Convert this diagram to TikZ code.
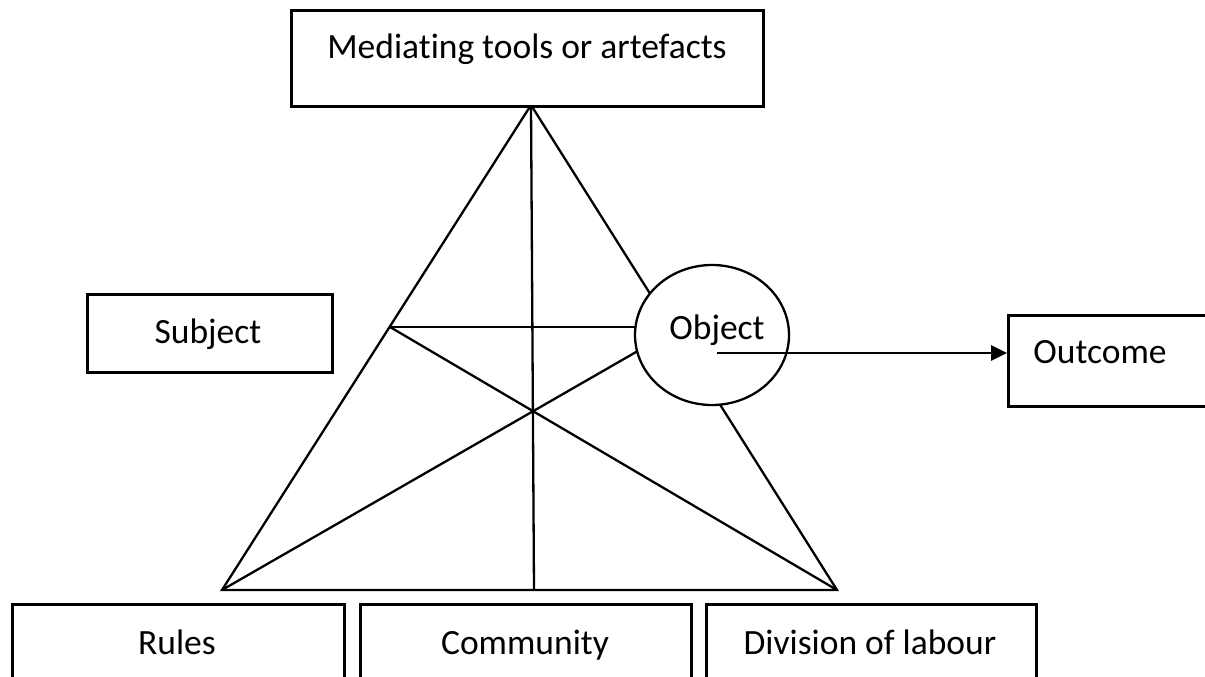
\documentclass[tikz,border=0pt]{standalone}
\usepackage{fontspec}
\setmainfont{Carlito}[Ligatures={NoCommon}]
\usetikzlibrary{arrows.meta,shapes.geometric}
\tikzset{
  box/.style={draw=black, line width=3pt, fill=white, inner sep=0pt, anchor=north west},
  lbl/.style={font=\fontsize{35.5}{40}\selectfont, inner sep=0pt, text height=23pt, text depth=0pt, anchor=center},
  tri/.style={draw=black, line width=2.3pt},
  objstyle/.style={draw=black, line width=2.3pt, fill=white, ellipse, minimum width=154pt, minimum height=140pt, inner sep=0pt},
  arr/.style={draw=black, line width=2.8pt, -{Triangle[length=16pt,width=15pt]}}
}
\begin{document}
\begin{tikzpicture}[x=1pt,y=-1pt]
\useasboundingbox (0,0) rectangle (1205,677);
\clip (0,0) rectangle (1205,677);
% key points of the triangle
\coordinate (A) at (531,105);
\coordinate (BL) at (222,590);
\coordinate (BR) at (837,590);
\coordinate (BM) at (534,590);
\coordinate (S) at (390,327);
\coordinate (Ox) at (640,327);
% triangle lines
\draw[tri] (A) -- (BL) -- (BR) -- cycle;
\draw[tri] (A) -- (BM);
\draw[tri] (S) -- (Ox);
\draw[tri] (S) -- (BR);
\draw[tri] (BL) -- (650,344);
% object ellipse
\node[objstyle] (obj) at (712,335) {};
\node[lbl] (objt) at (717,328) {Object};
% boxes
\node[box, minimum width=472pt, minimum height=96pt] (med) at (290,9) {};
\node[lbl] (medt) at (527,47) {Mediating tools or artefacts};
\node[box, minimum width=245pt, minimum height=78pt] (subj) at (86,293) {};
\node[lbl] (subjt) at (208,332) {Subject};
\node[box, minimum width=210pt, minimum height=91pt] (out) at (1007,314) {};
\node[lbl] (outt) at (1100,352) {Outcome};
\node[box, minimum width=332pt, minimum height=100pt] (rules) at (11,603) {};
\node[lbl] (rulest) at (177,643) {Rules};
\node[box, minimum width=331pt, minimum height=100pt] (comm) at (359,603) {};
\node[lbl] (commt) at (525,643) {Community};
\node[box, minimum width=330pt, minimum height=100pt] (div) at (705,603) {};
\node[lbl] (divt) at (870,643) {Division of labour};
% arrow
\coordinate (arrs) at (717,353);
\draw[arr] (arrs) -- (out.west |- arrs);
\end{tikzpicture}
\end{document}
